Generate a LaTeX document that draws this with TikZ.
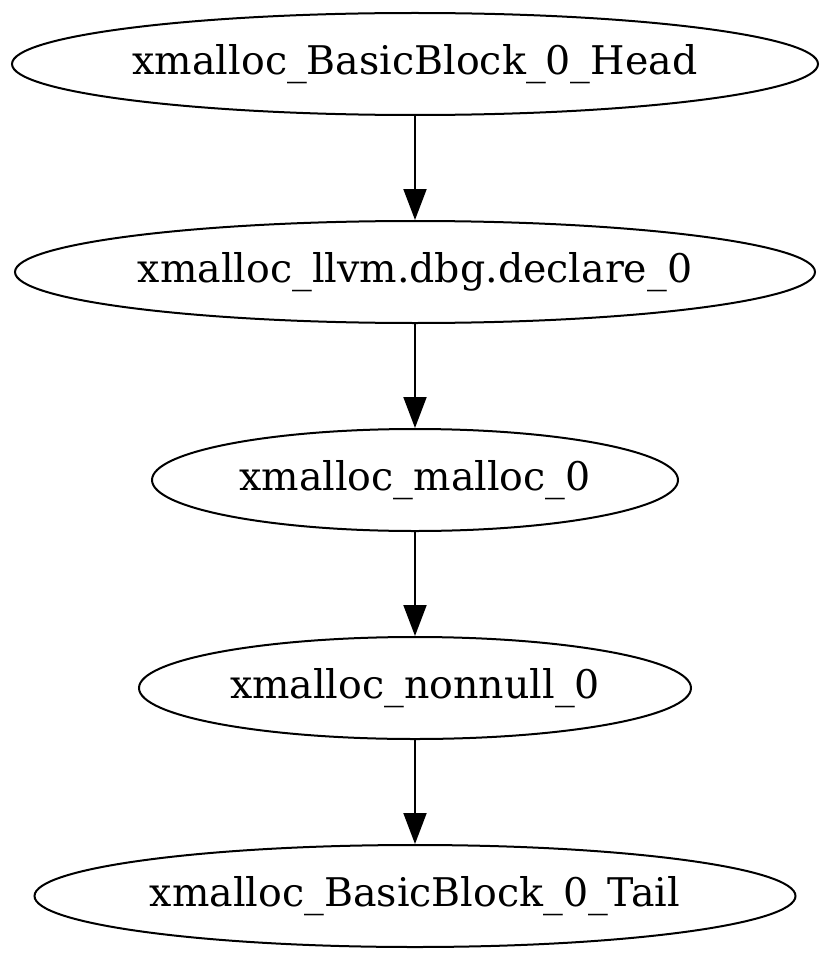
\documentclass[tikz,border=0pt]{standalone}
\usepackage{fontspec}
\setmainfont{DejaVu Serif}
\usetikzlibrary{shapes.geometric,arrows.meta}
\begin{document}
\begin{tikzpicture}[x=1pt,y=-1pt,
  gnode/.style={draw,ellipse,line width=2pt,inner sep=0pt,minimum height=102pt,
    font=\fontsize{39.5}{47}\selectfont},
  gedge/.style={draw,line width=2pt,-{Triangle[length=31pt,width=23pt]}}]
\useasboundingbox (0,0) rectangle (831,960);
\node[gnode,minimum width=806pt] (head) at (415,64) {xmalloc\_BasicBlock\_0\_Head};
\node[gnode,minimum width=800pt] (dbg) at (415,272) {xmalloc\_llvm.dbg.declare\_0};
\node[gnode,minimum width=526pt] (malloc) at (415,480) {xmalloc\_malloc\_0};
\node[gnode,minimum width=552pt] (nonnull) at (415,688) {xmalloc\_nonnull\_0};
\node[gnode,minimum width=761pt] (tail) at (415,896) {xmalloc\_BasicBlock\_0\_Tail};
\draw[gedge] (head) -- (dbg);
\draw[gedge] (dbg) -- (malloc);
\draw[gedge] (malloc) -- (nonnull);
\draw[gedge] (nonnull) -- (tail);
\end{tikzpicture}
\end{document}
